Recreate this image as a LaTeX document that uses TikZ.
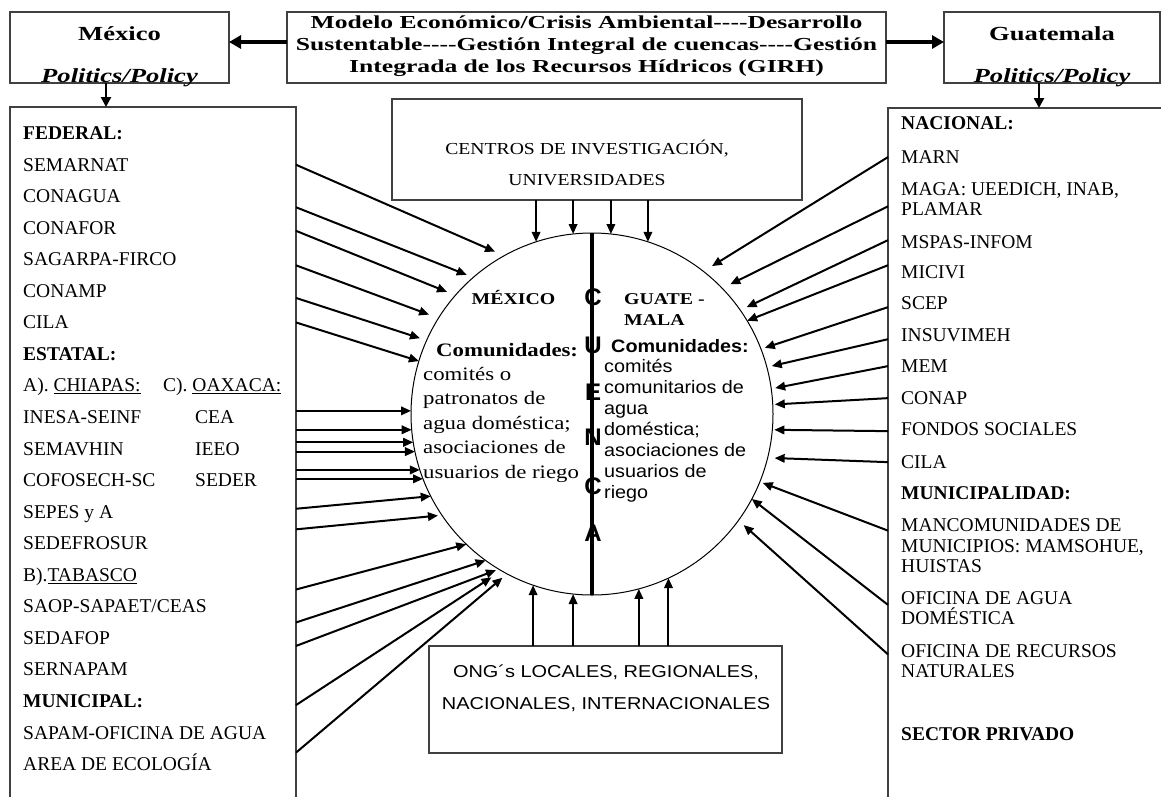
\documentclass[tikz,border=0pt]{standalone}
\usepackage{fontspec}
\setmainfont{Liberation Serif}
\newfontfamily\hdrfont{Liberation Serif}[FakeStretch=1.33]
\newfontfamily\girhfont{Liberation Serif}[FakeStretch=1.4]
\newfontfamily\boxfont{Liberation Serif}[FakeStretch=1.17]
\newfontfamily\ongfont{Liberation Sans}[FakeStretch=1.16]
\newfontfamily\circserif{Liberation Serif}[FakeStretch=1.2]
\newfontfamily\circsans{Liberation Sans}[FakeStretch=1.1]
\newfontfamily\cuencafont{Liberation Sans}
\usetikzlibrary{arrows.meta,calc}

\tikzset{
  box/.style={draw=black!75, line width=1.2pt, inner sep=0pt, outer sep=0pt},
  item/.style={anchor=base west, inner sep=0pt, align=left, font=\fontsize{19.5}{20.5}\selectfont},
  arr/.style={-{Triangle[length=10pt,width=8.5pt]}, line width=2pt},
  bigarr/.style={-{Triangle[length=12pt,width=13pt]}, line width=4pt},
  downarr/.style={-{Triangle[length=10pt,width=10pt]}, line width=2.5pt},
  letra/.style={font=\cuencafont\bfseries\fontsize{24}{24}\selectfont, inner sep=0pt},
}

\begin{document}
\begin{tikzpicture}[x=1pt, y=-1pt]
    \useasboundingbox (0,0) rectangle (1161,796);
    \clip (0,0) rectangle (1161,796);
    \fill[white] (0,0) rectangle (1161,796);

    % cajas de arriba
    \node[box, minimum width=219pt, minimum height=71pt] (mexbox) at (119.5,47.5) {};
    \node[box, minimum width=599pt, minimum height=71pt] (girh) at (586.5,47.5) {};
    \node[box, minimum width=216pt, minimum height=71pt] (guabox) at (1052,47.5) {};
    \node[anchor=base, inner sep=0pt, font=\hdrfont\bfseries\fontsize{20}{20}\selectfont] (mextit) at (119.5,40) {México};
    \node[anchor=base, inner sep=0pt, font=\hdrfont\bfseries\itshape\fontsize{20}{20}\selectfont] (mexpol) at (119.5,82) {Politics/Policy};
    \node[anchor=base, inner sep=0pt, font=\hdrfont\bfseries\fontsize{20}{20}\selectfont] (guatit) at (1052,40) {Guatemala};
    \node[anchor=base, inner sep=0pt, font=\hdrfont\bfseries\itshape\fontsize{20}{20}\selectfont] (guapol) at (1052,82) {Politics/Policy};
    \node[anchor=base, align=center, inner sep=0pt, font=\girhfont\bfseries\fontsize{18.3}{22}\selectfont] (girhtxt) at (586.5,72)
        {Modelo Económico/Crisis Ambiental-{}--{}-Desarrollo\\Sustentable-{}--{}-Gestión Integral de cuencas-{}--{}-Gestión\\Integrada de los Recursos Hídricos (GIRH)};
    \draw[bigarr] ([yshift=5.5pt]girh.west) -- ([yshift=5.5pt]mexbox.east);
    \draw[bigarr] ([yshift=5.5pt]girh.east) -- ([yshift=5.5pt]guabox.west);

    % listas
    \node[box, minimum width=286pt, minimum height=740pt] (mexlist) at (153,477) {};
    \node[box, minimum width=344pt, minimum height=740pt] (gualist) at (1060,478) {};
    \draw[downarr] ($(mexbox.south)+(-13.5,0)$) -- ($(mexbox.south |- mexlist.north)+(-13.5,0)$);
    \draw[downarr] ($(guabox.south)+(-13,0)$) -- ($(guabox.south |- gualist.north)+(-13,0)$);

    \node[item, font=\bfseries\fontsize{19.5}{20.5}\selectfont] (federal) at (23,139.5) {FEDERAL:};
    \node[item] (semarnat) at (23,171.1) {SEMARNAT};
    \node[item] (conagua) at (23,202.6) {CONAGUA};
    \node[item] (conafor) at (23,234.2) {CONAFOR};
    \node[item] (sagarpa) at (23,265.7) {SAGARPA-FIRCO};
    \node[item] (conamp) at (23,297.3) {CONAMP};
    \node[item] (lcila) at (23,328.8) {CILA};
    \node[item, font=\bfseries\fontsize{19.5}{20.5}\selectfont] (estatal) at (23,360.4) {ESTATAL:};
    \node[item] (chiapas) at (23,391.9) {A). \underline{CHIAPAS:}};
    \node[item] (oaxaca) at (163,391.9) {C). \underline{OAXACA:}};
    \node[item] (inesa) at (23,423.5) {INESA-SEINF};
    \node[item] (cea) at (195,423.5) {CEA};
    \node[item] (semavhin) at (23,455) {SEMAVHIN};
    \node[item] (ieeo) at (195,455) {IEEO};
    \node[item] (cofosech) at (23,486.6) {COFOSECH-SC};
    \node[item] (seder) at (195,486.6) {SEDER};
    \node[item] (sepes) at (23,518.1) {SEPES y A};
    \node[item] (sedefrosur) at (23,549.7) {SEDEFROSUR};
    \node[item] (tabasco) at (23,581.2) {B).\underline{TABASCO}};
    \node[item] (saop) at (23,612.8) {SAOP-SAPAET/CEAS};
    \node[item] (sedafop) at (23,644.3) {SEDAFOP};
    \node[item] (sernapam) at (23,675.9) {SERNAPAM};
    \node[item, font=\bfseries\fontsize{19.5}{20.5}\selectfont] (municipal) at (23,707.4) {MUNICIPAL:};
    \node[item] (sapam) at (23,739) {SAPAM-OFICINA DE AGUA};
    \node[item] (ecologia) at (23,770.5) {AREA DE ECOLOGÍA};

    \node[item, font=\bfseries\fontsize{19.5}{20.5}\selectfont] (nacional) at (901,129.5) {NACIONAL:};
    \node[item] (marn) at (901,163.5) {MARN};
    \node[item] (maga) at (901,215.5) {MAGA: UEEDICH, INAB,\\PLAMAR};
    \node[item] (mspas) at (901,248.5) {MSPAS-INFOM};
    \node[item] (micivi) at (901,278.5) {MICIVI};
    \node[item] (scep) at (901,309.5) {SCEP};
    \node[item] (insuvimeh) at (901,341.5) {INSUVIMEH};
    \node[item] (mem) at (901,372.5) {MEM};
    \node[item] (conap) at (901,404.5) {CONAP};
    \node[item] (fondos) at (901,435.5) {FONDOS SOCIALES};
    \node[item] (rcila) at (901,468.5) {CILA};
    \node[item, font=\bfseries\fontsize{19.5}{20.5}\selectfont] (municipalidad) at (901,499.5) {MUNICIPALIDAD:};
    \node[item] (mancom) at (901,572.5) {MANCOMUNIDADES DE\\MUNICIPIOS: MAMSOHUE,\\HUISTAS};
    \node[item] (ofagua) at (901,624.5) {OFICINA DE AGUA\\DOMÉSTICA};
    \node[item] (ofrec) at (901,677.5) {OFICINA DE RECURSOS\\NATURALES};
    \node[item, font=\bfseries\fontsize{19.5}{20.5}\selectfont] (privado) at (901,740.5) {SECTOR PRIVADO};

    % centros y ONG
    \node[box, minimum width=410pt, minimum height=101pt] (centros) at (597,149.5) {};
    \node[anchor=base, align=center, inner sep=0pt, font=\boxfont\fontsize{16.8}{31}\selectfont] (centrostxt) at (587,185.5)
        {CENTROS DE INVESTIGACIÓN,\\UNIVERSIDADES};
    \node[box, minimum width=353pt, minimum height=107pt] (ong) at (605.5,699.5) {};
    \node[anchor=base, align=center, inner sep=0pt, font=\ongfont\fontsize{17.2}{32}\selectfont] (ongtxt) at (606,709)
        {ONG´s LOCALES, REGIONALES,\\NACIONALES, INTERNACIONALES};

    % cuenca
    \node[draw, circle, line width=1pt, minimum size=362pt, inner sep=0pt, outer sep=0pt] (cuenca) at (592,414) {};
    \draw[line width=3.5pt] (cuenca.north) -- (cuenca.south);
    \node[letra] (c1) at (593,297) {C};
    \node[letra] (u1) at (593,345) {U};
    \node[letra] (e1) at (593,392) {E};
    \node[letra] (n1) at (593,437) {N};
    \node[letra] (c2) at (593,486) {C};
    \node[letra] (a1) at (593,533) {A};

    \node[anchor=base, inner sep=0pt, font=\circserif\bfseries\fontsize{16.5}{16.5}\selectfont] (mexc) at (513.5,304) {MÉXICO};
    \node[anchor=base west, inner sep=0pt, font=\circserif\bfseries\fontsize{19}{19}\selectfont] (comleft) at (436,356) {Comunidades:};
    \node[anchor=base west, align=left, inner sep=0pt, font=\circserif\fontsize{19}{24.5}\selectfont] (bodyleft) at (423,478)
        {comités o\\patronatos de\\agua doméstica;\\asociaciones de\\usuarios de riego};
    \node[anchor=base west, align=left, inner sep=0pt, font=\circserif\bfseries\fontsize{16.5}{21}\selectfont] (guac) at (624,325) {GUATE -\\MALA};
    \node[anchor=base west, inner sep=0pt, font=\circsans\bfseries\fontsize{18}{18}\selectfont] (comright) at (611,352) {Comunidades:};
    \node[anchor=base west, align=left, inner sep=0pt, font=\circsans\fontsize{18}{21}\selectfont] (bodyright) at (604,498)
        {comités\\comunitarios de\\agua\\doméstica;\\asociaciones de\\usuarios de\\riego};

    % flechas de Mexico
    \draw[arr, shorten >=10pt] (mexlist.east |- semarnat) -- (cuenca.119.8);
    \draw[arr, shorten >=7pt] ($(mexlist.east |- conagua)+(0,11)$) -- (cuenca.131.3);
    \draw[arr, shorten >=9pt] ($(mexlist.east |- conafor)+(0,3)$) -- (cuenca.139.3);
    \draw[arr, shorten >=10pt] ($(mexlist.east |- sagarpa)+(0,6)$) -- (cuenca.148.1);
    \draw[arr, shorten >=7pt] ($(mexlist.east |- conamp)+(0,7)$) -- (cuenca.156.4);
    \draw[arr] (mexlist.east |- lcila) -- (cuenca.163.8);
    \draw[arr] (mexlist.east |- cuenca.179.7) -- (cuenca.179.7);
    \draw[arr] (mexlist.east |- cuenca.185.1) -- (cuenca.185.1);
    \draw[arr] (mexlist.east |- cuenca.189.9) -- (cuenca.189.9);
    \draw[arr] (mexlist.east |- cuenca.192.1) -- (cuenca.192.1);
    \draw[arr] (mexlist.east |- cuenca.198.7) -- (cuenca.198.7);
    \draw[arr] (mexlist.east |- cuenca.201.4) -- (cuenca.201.4);
    \draw[arr] ($(mexlist.east |- sepes)+(0,-5)$) -- (cuenca.207.1);
    \draw[arr, shorten >=4pt] ($(mexlist.east |- sedefrosur)+(0,-14)$) -- (cuenca.214.9);
    \draw[arr] ($(mexlist.east |- tabasco)+(0,13)$) -- (cuenca.226.8);
    \draw[arr] ($(mexlist.east |- saop)+(0,16)$) -- (cuenca.234.8);
    \draw[arr, shorten >=3pt] ($(mexlist.east |- sedafop)+(0,8)$) -- (cuenca.239);
    \draw[arr, shorten >=12pt] ($(mexlist.east |- municipal)+(0,4)$) -- (cuenca.240.5);
    \draw[arr, shorten >=6pt] ($(mexlist.east |- sapam)+(0,20)$) -- (cuenca.242.3);

    % flechas de Guatemala
    \draw[arr, shorten >=10pt] (gualist.west |- marn) -- (cuenca.52.9);
    \draw[arr, shorten >=9pt] ($(gualist.west |- maga)+(0,7.5)$) -- (cuenca.44.8);
    \draw[arr, shorten >=7pt] ($(gualist.west |- mspas)+(0,-2)$) -- (cuenca.35.5);
    \draw[arr] ($(gualist.west |- micivi)+(0,-7)$) -- (cuenca.31.2);
    \draw[arr, shorten >=4pt] ($(gualist.west |- scep)+(0,4)$) -- (cuenca.21.2);
    \draw[arr, shorten >=5pt] ($(gualist.west |- insuvimeh)+(0,4)$) -- (cuenca.15.6);
    \draw[arr, shorten >=4pt] (gualist.west |- mem) -- (cuenca.8.1);
    \draw[arr, shorten >=2pt] (gualist.west |- conap) -- (cuenca.3.1);
    \draw[arr, shorten >=2pt] ($(gualist.west |- fondos)+(0,2)$) -- (cuenca.355);
    \draw[arr, shorten >=7pt] (gualist.west |- rcila) -- (cuenca.346.8);
    \draw[arr, shorten >=3pt] ($(gualist.west |- mancom)+(0,-15)$) -- (cuenca.338.3);
    \draw[arr] ($(gualist.west |- ofagua)+(0,-3)$) -- (cuenca.332.4);
    \draw[arr, shorten >=7pt] ($(gualist.west |- ofrec)+(0,-6.5)$) -- (cuenca.324.5);

    % centros y ONG
    \draw[arr] (centros.south -| cuenca.108.4) -- (cuenca.108.4);
    \draw[arr] (centros.south -| cuenca.96) -- (cuenca.96);
    \draw[arr] (centros.south -| cuenca.84) -- (cuenca.84);
    \draw[arr] (centros.south -| cuenca.72) -- (cuenca.72);
    \draw[arr] (ong.north -| cuenca.251.6) -- (cuenca.251.6);
    \draw[arr] (ong.north -| cuenca.264) -- (cuenca.264);
    \draw[arr] (ong.north -| cuenca.285) -- (cuenca.285);
    \draw[arr] (ong.north -| cuenca.295.2) -- (cuenca.295.2);
\end{tikzpicture}
\end{document}
